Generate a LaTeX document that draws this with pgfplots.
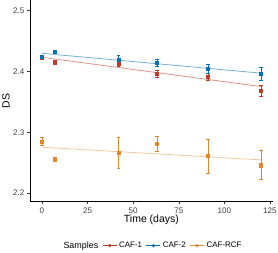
\documentclass[border=0pt]{standalone}
\usepackage{fontspec}
\setmainfont{Liberation Sans}
\usepackage{pgfplots}
\pgfplotsset{compat=1.18}
\definecolor{cafone}{HTML}{BC3C29}
\definecolor{caftwo}{HTML}{0072B5}
\definecolor{cafrcf}{HTML}{E18727}
\begin{document}
\begin{tikzpicture}
\path[use as bounding box] (0bp,0bp) rectangle (278bp,253bp);
\begin{axis}[
  at={(30.1bp,51.3bp)}, anchor=south west,
  scale only axis, width=242.6bp, height=201.7bp,
  xmin=-6.5, xmax=126.5, ymin=2.186, ymax=2.517,
  axis lines=left,
  axis line style={-, black, line width=0.7bp},
  xtick={0,25,50,75,100,125},
  ytick={2.2,2.3,2.4,2.5},
  yticklabel style={/pgf/number format/fixed, /pgf/number format/precision=1, /pgf/number format/fixed zerofill, xshift=0.5bp},
  /pgf/number format/assume math mode=true,
  tick label style={font=\fontsize{8.1}{9}\selectfont, text=black!75},
  tick align=outside,
  major tick length=2.75bp,
  tick style={black!80, line width=0.5bp},
  xticklabel style={yshift=0.5bp},
  legend style={at={(axis description cs:0.5045,-0.218)}, anchor=center, draw=none, fill=none,
    font=\fontsize{8}{9}\selectfont,
    /tikz/every even column/.append style={column sep=2bp},
    /tikz/every odd column/.append style={column sep=0bp}},
  legend columns=-1,
  legend image code/.code={\draw[mark repeat=2,mark phase=2,#1] plot coordinates {(0bp,0bp) (7bp,0bp) (14bp,0bp)};},
]
% regression lines
\addplot[cafone, opacity=0.55, line width=0.8bp, forget plot] coordinates {(0,2.423) (120,2.375)};
\addplot[caftwo, opacity=0.55, line width=0.8bp, forget plot] coordinates {(0,2.4295) (120,2.397)};
\addplot[cafrcf, opacity=0.45, line width=0.8bp, forget plot] coordinates {(0,2.2754) (120,2.2546)};
% CAF-1
\addplot[cafone, only marks, mark=square*, mark size=1.6bp, forget plot,
  error bars/.cd, y dir=both, y explicit,
  error bar style={line width=0.6bp},
  error mark options={rotate=90, mark size=1.8bp, line width=0.6bp}]
  table[x=x, y=y, y error=e] {
x y e
0 2.422 0.003
7 2.415 0.003
42 2.413 0.004
63 2.396 0.006
91 2.391 0.005
120 2.368 0.009
};
% CAF-2
\addplot[caftwo, only marks, mark=square*, mark size=1.6bp, forget plot,
  error bars/.cd, y dir=both, y explicit,
  error bar style={line width=0.6bp},
  error mark options={rotate=90, mark size=1.8bp, line width=0.6bp}]
  table[x=x, y=y, y error=e] {
x y e
0 2.424 0.003
7 2.432 0.003
42 2.419 0.008
63 2.414 0.005
91 2.404 0.008
120 2.396 0.011
};
% CAF-RCF
\addplot[cafrcf, only marks, mark=square*, mark size=1.6bp, forget plot,
  error bars/.cd, y dir=both, y explicit,
  error bar style={line width=0.6bp},
  error mark options={rotate=90, mark size=1.8bp, line width=0.6bp}]
  table[x=x, y=y, y error=e] {
x y e
0 2.285 0.007
7 2.256 0.003
42 2.266 0.025
63 2.281 0.013
91 2.261 0.028
120 2.246 0.024
};
\addlegendimage{empty legend}
\addlegendentry{\fontsize{9}{10}\selectfont Samples}
\addlegendimage{cafone, mark=*, mark size=1.3bp, line width=0.7bp}
\addlegendentry{CAF-1}
\addlegendimage{caftwo, mark=*, mark size=1.3bp, line width=0.7bp}
\addlegendentry{CAF-2}
\addlegendimage{cafrcf, mark=*, mark size=1.3bp, line width=0.7bp}
\addlegendentry{CAF-RCF}
\end{axis}
\node[rotate=90, font=\fontsize{10.5}{11}\selectfont] at (6bp,152.2bp) {DS};
\node[font=\fontsize{10.5}{11}\selectfont] at (151.4bp,33bp) {Time (days)};
\end{tikzpicture}
\end{document}
